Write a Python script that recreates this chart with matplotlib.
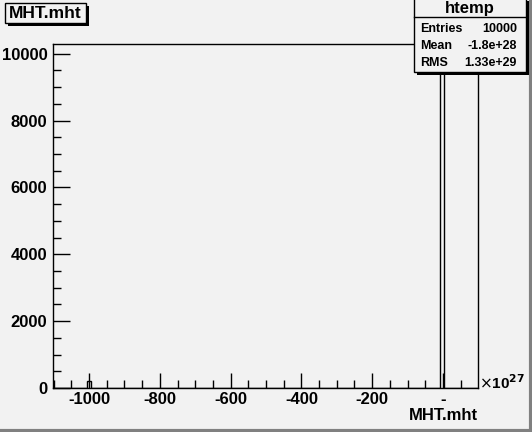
import numpy as np
import matplotlib.pyplot as plt
from matplotlib.patches import Rectangle
from matplotlib.ticker import MultipleLocator

# histogram "htemp" of MHT.mht, x in units of 1e27
x_low = -1102.0
x_high = 99.0
n_bins = 100
filled_bins = [8, 91]
filled_counts = [200, 9800]
x_ticks = [-1000, -800, -600, -400, -200, 0]
x_tick_labels = ["-1000", "-800", "-600", "-400", "-200", "-"]
y_ticks = [0, 2000, 4000, 6000, 8000, 10000]
stats = [("Entries", "10000"), ("Mean", "-1.8e+28"), ("RMS", "1.33e+29")]

edges = np.linspace(x_low, x_high, n_bins + 1)
counts = np.zeros(n_bins)
for b, c in zip(filled_bins, filled_counts):
    counts[b] = c

plt.rcParams['font.family'] = ['Liberation Sans', 'DejaVu Sans']
bg = '#f2f2f2'
W, H = 532, 432
fig = plt.figure(figsize=(W / 100, H / 100), dpi=100, facecolor=bg)

ax = fig.add_axes([53 / W, (H - 388) / H, 425 / W, 344 / H])
ax.set_facecolor(bg)
ax.stairs(counts, edges, color='black', lw=1)
ax.set_xlim(x_low, x_high)
ax.set_ylim(0, max(filled_counts) * 1.05)

ax.set_xticks(x_ticks)
ax.set_xticklabels(x_tick_labels)
ax.set_yticks(y_ticks)
ax.xaxis.set_minor_locator(MultipleLocator(50))
ax.yaxis.set_minor_locator(MultipleLocator(500))
ax.tick_params(which='major', direction='in', length=11, width=1, labelsize=12)
ax.tick_params(which='minor', direction='in', length=5.5, width=1)
ax.tick_params(axis='x', which='major', pad=3)
ax.tick_params(axis='y', which='major', length=12, pad=4)
ax.tick_params(top=False, right=False, which='both')
for lab in ax.get_xticklabels() + ax.get_yticklabels():
    lab.set_fontweight('bold')
for s in ax.spines.values():
    s.set_linewidth(1)

# exponent and axis title
fig.text(479 / W, 1 - 383 / H, r"$\times$10$^{\mathbf{27}}$", fontsize=11,
         fontweight='bold', ha='left', va='center')
fig.text(478 / W, 1 - 416 / H, "MHT.mht", fontsize=12, fontweight='bold',
         ha='right', va='center')

def box(x0, y0, x1, y1):
    # box with ROOT-like drop shadow, pixel coords from top-left
    fig.patches.append(Rectangle((x0 / W + 3 / W, 1 - (y1 + 3) / H), (x1 - x0) / W,
                                 (y1 - y0) / H, transform=fig.transFigure,
                                 facecolor='black', edgecolor='none', zorder=5))
    fig.patches.append(Rectangle((x0 / W, 1 - y1 / H), (x1 - x0) / W, (y1 - y0) / H,
                                 transform=fig.transFigure, facecolor=bg,
                                 edgecolor='black', lw=1, zorder=6))

# title
box(5, 3, 86, 23)
fig.text(45.5 / W, 1 - 13.5 / H, "MHT.mht", fontsize=12.5, fontweight='bold',
         ha='center', va='center', zorder=7)

# stats box
box(414, -2, 526, 72)
fig.add_artist(plt.Line2D([414 / W, 526 / W], [1 - 17 / H, 1 - 17 / H],
                          color='black', lw=1, zorder=7))
fig.text(470 / W, 1 - 8.5 / H, "htemp", fontsize=12, fontweight='bold',
         ha='center', va='center', zorder=7)
for i, (k, v) in enumerate(stats):
    yy = 1 - (29 + 17 * i) / H
    fig.text(420 / W, yy, k, fontsize=9, fontweight='bold', ha='left', va='center', zorder=7)
    fig.text(517 / W, yy, v, fontsize=9, fontweight='bold', ha='right', va='center', zorder=7)

# canvas bevel
fig.add_artist(plt.Line2D([1 - 1.5 / W, 1 - 1.5 / W], [0, 1], color='#808080', lw=3))
fig.add_artist(plt.Line2D([0, 1], [1.5 / H, 1.5 / H], color='#808080', lw=3))

fig.savefig('out.png', dpi=100, facecolor=bg)
